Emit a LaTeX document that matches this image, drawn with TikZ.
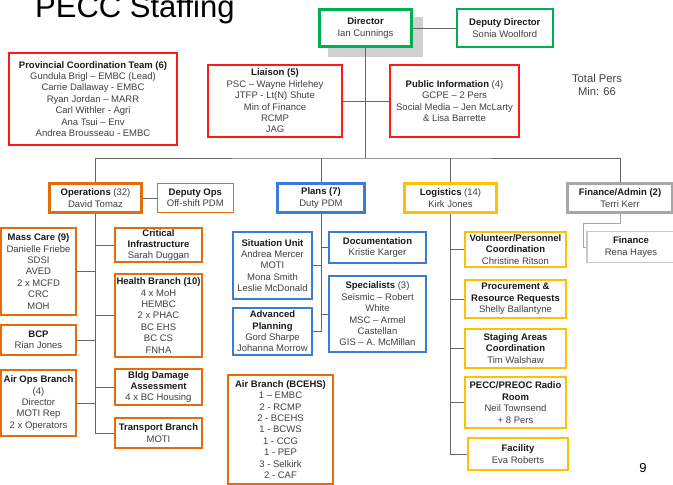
\documentclass[tikz,border=0pt]{standalone}
\usepackage{fontspec}
\setmainfont{Liberation Sans}
\usetikzlibrary{positioning}

\definecolor{pecred}{HTML}{FF1A1A}
\definecolor{pecgreen}{HTML}{00B050}
\definecolor{pecorange}{HTML}{E46C0A}
\definecolor{pecblue}{HTML}{3C7BD6}
\definecolor{pecyellow}{HTML}{FFC000}
\definecolor{pecgray}{HTML}{A6A6A6}
\definecolor{peclight}{HTML}{C8C8C8}
\definecolor{shadowgray}{HTML}{D0D0D0}
\definecolor{linkgray}{HTML}{666666}
\definecolor{bodytext}{HTML}{404040}
\definecolor{headtext}{HTML}{1A1A1A}

\newcommand{\hd}[1]{\textbf{\color{headtext}#1}}

\begin{document}
\begin{tikzpicture}[x=1pt, y=-1pt,
    unit/.style={draw, fill=white, rectangle, line width=1.6pt, align=center, inner sep=1pt, text=bodytext, font=\fontsize{9.5}{11.4}\selectfont},
    lead/.style={unit, line width=3pt},
    link/.style={draw=linkgray, line width=0.8pt}
]
    \useasboundingbox (0,0) rectangle (673,485);
    \clip (0,0) rectangle (673,485);

    % Title
    \node[anchor=base west, inner sep=0pt, font=\fontsize{31}{31}\selectfont] (title) at (35,17) {PECC Staffing};

    % Top level
    \fill[shadowgray] (328,17) rectangle (423,57);
    \node[lead, draw=pecgreen, minimum width=92pt, minimum height=37pt] (director) at (365.5,28) {\hd{Director}\\Ian Cunnings};
    \node[unit, draw=pecgreen, minimum width=96pt, minimum height=38pt, right=43pt of director] (deputy) {\hd{Deputy Director}\\Sonia Woolford};
    \node[unit, draw=pecred, minimum width=168pt, minimum height=92pt] (pct) at (93,99) {\hd{Provincial Coordination Team (6)}\\Gundula Brigl – EMBC (Lead)\\Carrie Dallaway - EMBC\\Ryan Jordan – MARR\\Carl Withler - Agri\\Ana Tsui – Env\\Andrea Brousseau - EMBC};
    \node[unit, draw=pecred, minimum width=134pt, minimum height=72pt] (liaison) at (275,101) {\hd{Liaison (5)}\\PSC – Wayne Hirlehey\\JTFP - Lt(N) Shute\\Min of Finance\\RCMP\\JAG};
    \node[unit, draw=pecred, minimum width=129pt, minimum height=72pt] (pubinfo) at (454.5,101) {\hd{Public Information} (4)\\GCPE – 2 Pers\\Social Media – Jen McLarty\\\& Lisa Barrette};
    \node[align=center, text=bodytext, font=\fontsize{11.2}{13.5}\selectfont] (totalpers) at (597,85) {Total Pers\\Min: 66};

    % Sections
    \node[lead, draw=pecorange, minimum width=92pt, minimum height=29pt] (ops) at (95.5,198) {\hd{Operations} (32)\\David Tomaz};
    \node[unit, draw=pecorange, minimum width=76pt, minimum height=29pt, right=13.5pt of ops] (deputyops) {\hd{Deputy Ops}\\Off-shift PDM};
    \node[lead, draw=pecblue, minimum width=87pt, minimum height=29pt] (plans) at (321,198) {\hd{Plans (7)}\\Duty PDM};
    \node[lead, draw=pecyellow, minimum width=92pt, minimum height=29pt] (logistics) at (450.5,198) {\hd{Logistics} (14)\\Kirk Jones};
    \node[lead, draw=pecgray, minimum width=105pt, minimum height=29pt] (finadmin) at (620,198) {\hd{Finance/Admin (2)}\\Terri Kerr};

    % Operations branches
    \node[unit, draw=pecorange, minimum width=75pt, minimum height=87pt] (masscare) at (38.5,271.5) {\hd{Mass Care (9)}\\Danielle Friebe\\SDSI\\AVED\\2 x MCFD\\CRC\\MOH};
    \node[unit, draw=pecorange, minimum width=87pt, minimum height=34pt] (critinfra) at (158.5,245) {\hd{Critical}\\\hd{Infrastructure}\\Sarah Duggan};
    \node[unit, draw=pecorange, minimum width=87pt, minimum height=83pt] (health) at (158.5,315.5) {\hd{Health Branch (10)}\\4 x MoH\\HEMBC\\2 x PHAC\\BC EHS\\BC CS\\FNHA};
    \node[unit, draw=pecorange, minimum width=75pt, minimum height=30pt] (bcp) at (38.5,340) {\hd{BCP}\\Rian Jones};
    \node[unit, draw=pecorange, minimum width=75pt, minimum height=66pt] (airops) at (38.5,403) {\hd{Air Ops Branch}\\(4)\\Director\\MOTI Rep\\2 x Operators};
    \node[unit, draw=pecorange, minimum width=87pt, minimum height=36pt] (bldg) at (158.5,387) {\hd{Bldg Damage}\\\hd{Assessment}\\4 x BC Housing};
    \node[unit, draw=pecorange, minimum width=87pt, minimum height=30pt] (transport) at (158.5,433) {\hd{Transport Branch}\\MOTI};
    \node[unit, draw=pecorange, minimum width=105pt, minimum height=109pt] (airbranch) at (280.5,429.5) {\hd{Air Branch (BCEHS)}\\1 – EMBC\\2 - RCMP\\2 - BCEHS\\1 - BCWS\\1 - CCG\\1 - PEP\\3 - Selkirk\\2 - CAF};

    % Plans branches
    \node[unit, draw=pecblue, minimum width=79pt, minimum height=67pt] (situation) at (272.5,265.5) {\hd{Situation Unit}\\Andrea Mercer\\MOTI\\Mona Smith\\Leslie McDonald};
    \node[unit, draw=pecblue, minimum width=97pt, minimum height=31pt] (docs) at (377.5,247.5) {\hd{Documentation}\\Kristie Karger};
    \node[unit, draw=pecblue, minimum width=97pt, minimum height=76pt] (specialists) at (377.5,314) {\hd{Specialists} (3)\\Seismic – Robert\\White\\MSC – Armel\\Castellan\\GIS – A. McMillan};
    \node[unit, draw=pecblue, minimum width=79pt, minimum height=47pt] (advplan) at (272.5,331.5) {\hd{Advanced}\\\hd{Planning}\\Gord Sharpe\\Johanna Morrow};

    % Logistics branches
    \node[unit, draw=pecyellow, minimum width=101pt, minimum height=35pt] (volunteer) at (515.5,249.5) {\hd{Volunteer/Personnel}\\\hd{Coordination}\\Christine Ritson};
    \node[unit, draw=pecyellow, minimum width=101pt, minimum height=38pt] (procure) at (515.5,299) {\hd{Procurement \&}\\\hd{Resource Requests}\\Shelly Ballantyne};
    \node[unit, draw=pecyellow, minimum width=101pt, minimum height=39pt] (staging) at (515.5,348.5) {\hd{Staging Areas}\\\hd{Coordination}\\Tim Walshaw};
    \node[unit, draw=pecyellow, minimum width=101pt, minimum height=51pt] (radio) at (515.5,402.5) {\hd{PECC/PREOC Radio}\\\hd{Room}\\Neil Townsend\\+ 8 Pers};
    \node[unit, draw=pecyellow, minimum width=100pt, minimum height=32pt] (facility) at (518,454) {\hd{Facility}\\Eva Roberts};

    % Finance branch
    \node[unit, draw=peclight, minimum width=88pt, minimum height=31pt] (finance) at (631,247) {\hd{Finance}\\Rena Hayes};

    \node[anchor=base, inner sep=0pt, font=\fontsize{13}{13}\selectfont] (pagenum) at (643,472) {9};

    % Connectors
    \coordinate (hub) at (365.5,158);
    \coordinate (finbend) at (583,223);
    \draw[link] (director) -- (deputy);
    \draw[link] (liaison) -- (pubinfo);
    \draw[link] (director.south) -- (hub);
    \draw[link] (ops.north) |- (hub) -| (finadmin.north);
    \draw[link] (plans.north) -- (plans.north |- hub);
    \draw[link] (logistics.north) -- (logistics.north |- hub);
    \draw[link] (ops) -- (deputyops);

    \draw[link] (ops.south) |- (transport.west);
    \foreach \b in {critinfra, health, bldg}
        \draw[link] (\b.west) -- (\b.west -| ops.south);
    \foreach \b in {masscare, bcp, airops}
        \draw[link] (\b.east) -- (\b.east -| ops.south);

    \draw[link] (plans.south) |- (advplan.east);
    \draw[link] (situation.east) -- (situation.east -| plans.south);
    \foreach \b in {docs, specialists}
        \draw[link] (\b.west) -- (\b.west -| plans.south);

    \draw[link] (logistics.south) |- (facility.west);
    \foreach \b in {volunteer, procure, staging, radio}
        \draw[link] (\b.west) -- (\b.west -| logistics.south);

    \draw[link, draw=pecgray] (finadmin.south) |- (finbend) |- (finance.west);
\end{tikzpicture}
\end{document}
